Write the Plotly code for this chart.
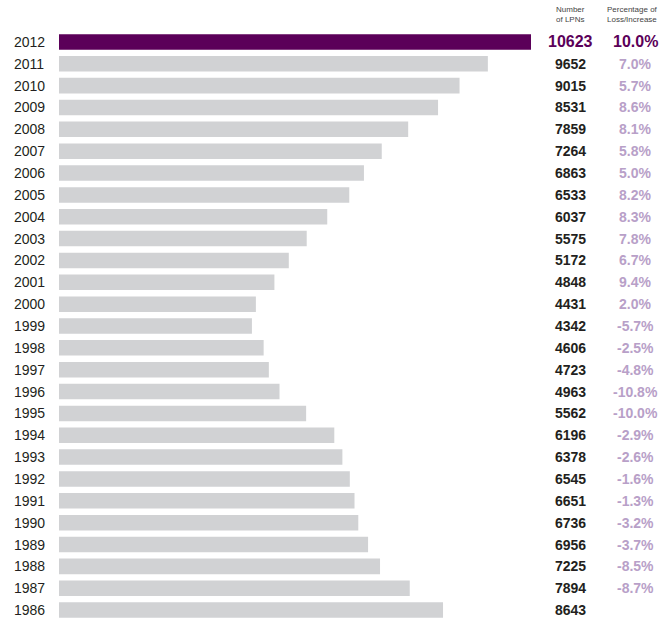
import plotly.graph_objects as go

years = [2012, 2011, 2010, 2009, 2008, 2007, 2006, 2005, 2004, 2003, 2002, 2001, 2000,
         1999, 1998, 1997, 1996, 1995, 1994, 1993, 1992, 1991, 1990, 1989, 1988, 1987, 1986]
lpns = [10623, 9652, 9015, 8531, 7859, 7264, 6863, 6533, 6037, 5575, 5172, 4848, 4431,
        4342, 4606, 4723, 4963, 5562, 6196, 6378, 6545, 6651, 6736, 6956, 7225, 7894, 8643]
pct = ["10.0%", "7.0%", "5.7%", "8.6%", "8.1%", "5.8%", "5.0%", "8.2%", "8.3%", "7.8%", "6.7%",
       "9.4%", "2.0%", "-5.7%", "-2.5%", "-4.8%", "-10.8%", "-10.0%", "-2.9%", "-2.6%", "-1.6%",
       "-1.3%", "-3.2%", "-3.7%", "-8.5%", "-8.7%", ""]

PURPLE = "#5b0059"
LIGHT_PURPLE = "#b8a0c8"
GRAY = "#d1d2d4"
FONT = "Liberation Sans Narrow, Liberation Sans, Arial, sans-serif"

W, H = 659, 622
L, T = 59, 31
PW = 600
PH = 590
xmax = PW / (472.0 / lpns[0])

n = len(years)
idx = list(range(n))
colors = [PURPLE if i == 0 else GRAY for i in idx]

fig = go.Figure(go.Bar(
    x=lpns, y=idx, orientation="h", marker=dict(color=colors, line=dict(width=0)),
    width=0.71, hoverinfo="skip"))

ann = []
def px(xp):
    return (xp - L) / PW

for i, (yr, v, p) in enumerate(zip(years, lpns, pct)):
    first = i == 0
    ann.append(dict(x=px(12), y=i, xref="paper", yref="y", text=str(yr), showarrow=False,
                    xanchor="left", yanchor="middle",
                    font=dict(family=FONT, size=14, color="#231f20")))
    ann.append(dict(x=px(570), y=i, xref="paper", yref="y", text="<b>%d</b>" % v, showarrow=False,
                    xanchor="center", yanchor="middle",
                    font=dict(family=FONT, size=16 if first else 14,
                              color=PURPLE if first else "#231f20")))
    if p:
        ann.append(dict(x=px(635), y=i, xref="paper", yref="y", text="<b>%s</b>" % p, showarrow=False,
                        xanchor="center", yanchor="middle",
                        font=dict(family=FONT, size=16 if first else 14,
                                  color=PURPLE if first else LIGHT_PURPLE)))

ann.append(dict(x=px(570), y=1 + 16 / PH, xref="paper", yref="paper",
                text="Number<br>of LPNs", showarrow=False, xanchor="center", yanchor="middle",
                align="center", font=dict(family=FONT, size=8, color="#444444")))
ann.append(dict(x=px(632), y=1 + 16 / PH, xref="paper", yref="paper",
                text="Percentage of<br>Loss/Increase", showarrow=False, xanchor="center",
                yanchor="middle", align="center", font=dict(family=FONT, size=8, color="#444444")))

fig.update_layout(
    width=W, height=H,
    margin=dict(l=L, r=W - L - PW, t=T, b=H - T - PH, pad=0),
    paper_bgcolor="white", plot_bgcolor="white",
    showlegend=False,
    xaxis=dict(range=[0, xmax], visible=False, fixedrange=True),
    yaxis=dict(range=[n - 0.5, -0.5], visible=False, fixedrange=True),
    annotations=ann,
)

fig.write_html("out.html", post_script="document.body.style.margin='0';",
               config={"displayModeBar": False})
